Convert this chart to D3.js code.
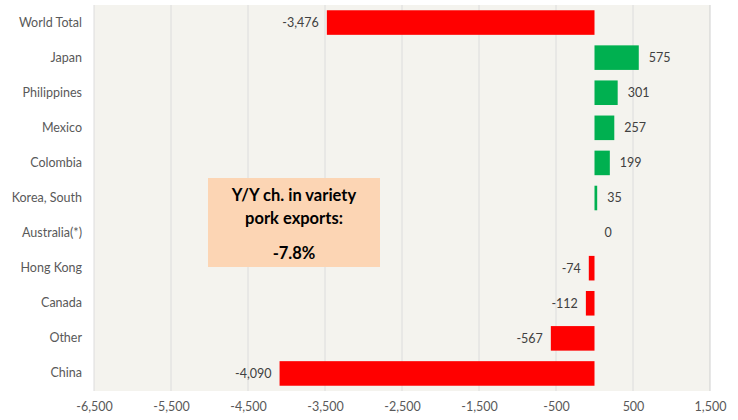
<!DOCTYPE html>
<html>
<head>
<meta charset="utf-8">
<script src="https://cdn.jsdelivr.net/npm/d3@7"></script>
<style>
  body { margin: 0; background: #fff; }
  text { font-family: Lato, "Open Sans", sans-serif; }
</style>
</head>
<body>
<div id="chart"></div>
<script>
var countries = ["World Total", "Japan", "Philippines", "Mexico", "Colombia", "Korea, South",
                 "Australia(*)", "Hong Kong", "Canada", "Other", "China"];
var changes   = [-3476, 575, 301, 257, 199, 35, 0, -74, -112, -567, -4090];
var xTicks    = [-6500, -5500, -4500, -3500, -2500, -1500, -500, 500, 1500];
var boxLines  = ["Y/Y ch. in variety", "pork exports:", "-7.8%"];

var width = 738, height = 420;
var margin = {top: 5, right: 28, bottom: 29, left: 94};
var w = width - margin.left - margin.right,
    h = height - margin.top - margin.bottom;

// hyphen minus like the spreadsheet, not the unicode one
var fmt = function(v) { return d3.format(",")(v).replace("\u2212", "-"); };

var svg = d3.select("#chart").append("svg")
    .attr("width", width)
    .attr("height", height);

var g = svg.append("g")
    .attr("transform", "translate(" + margin.left + "," + margin.top + ")");

var x = d3.scaleLinear().domain([-6500, 1500]).range([0, w]);
var y = d3.scaleBand().domain(countries).range([0, h]).paddingInner(0.3).paddingOuter(0.15);

// plot background
g.append("rect")
    .attr("width", w).attr("height", h)
    .attr("fill", "#f4f3ee");

// vertical gridlines
g.selectAll(".grid")
    .data(xTicks)
  .enter().append("line")
    .attr("x1", d => x(d)).attr("x2", d => x(d))
    .attr("y1", 0).attr("y2", h)
    .attr("stroke", d => d == 1500 ? "#cfcfcf" : "#dcdcdc")
    .attr("stroke-width", 1);

// x axis labels
var xAxis = g.append("g")
    .attr("transform", "translate(0," + h + ")")
    .call(d3.axisBottom(x).tickValues(xTicks).tickSize(0).tickPadding(11).tickFormat(fmt));
xAxis.select(".domain").remove();
xAxis.selectAll("text").attr("fill", "#595959").style("font-size", "12.5px")
    .style("font-family", "Lato, 'Open Sans', sans-serif");

// y axis labels
var yAxis = g.append("g")
    .call(d3.axisLeft(y).tickSize(0).tickPadding(12));
yAxis.select(".domain").remove();
yAxis.selectAll("text").attr("fill", "#595959").style("font-size", "12.5px")
    .style("font-family", "Lato, 'Open Sans', sans-serif");

// bars
g.selectAll(".bar")
    .data(countries)
  .enter().append("rect")
    .attr("x", (d, i) => x(Math.min(0, changes[i])))
    .attr("y", d => y(d))
    .attr("width", (d, i) => Math.abs(x(changes[i]) - x(0)))
    .attr("height", y.bandwidth())
    .attr("fill", (d, i) => changes[i] < 0 ? "#ff0000" : "#00b050");

// value labels
g.selectAll(".val")
    .data(countries)
  .enter().append("text")
    .attr("x", (d, i) => changes[i] < 0 ? x(changes[i]) - 8 : x(changes[i]) + 10)
    .attr("y", d => y(d) + y.bandwidth() / 2)
    .attr("dy", "0.35em")
    .attr("text-anchor", (d, i) => changes[i] < 0 ? "end" : "start")
    .attr("fill", "#404040")
    .style("font-size", "12.5px")
    .text((d, i) => fmt(changes[i]));

// annotation box
var bx = 208 - margin.left, by = 178 - margin.top;
g.append("rect")
    .attr("x", bx).attr("y", by)
    .attr("width", 172).attr("height", 89)
    .attr("fill", "#fcd5b4");

var lineY = [17, 40, 75];
g.selectAll(".boxtext")
    .data(boxLines)
  .enter().append("text")
    .attr("x", bx + 86)
    .attr("y", (d, i) => by + lineY[i])
    .attr("dy", "0.35em")
    .attr("text-anchor", "middle")
    .attr("fill", "#000")
    .style("font-size", "16.5px")
    .style("font-weight", "bold")
    .text(d => d);
</script>
</body>
</html>
